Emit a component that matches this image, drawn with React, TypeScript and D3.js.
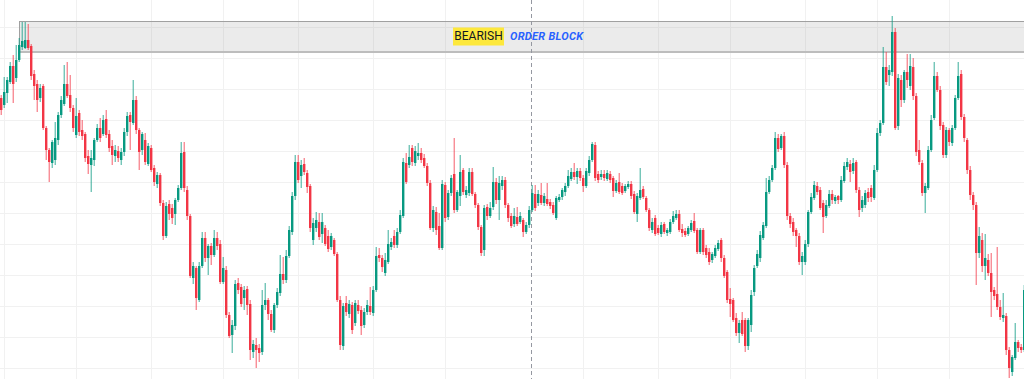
import React from 'react';
import * as d3 from 'd3';

// OHLC per bar (price units), left to right
const opens = [302,295,307,318,334,322,340,353,352,360,354,326,316,302,314,272,250,237,240,260,285,296,316,305,292,265,287,270,266,244,235,240,260,272,266,281,266,254,244,249,240,248,268,285,277,300,270,250,260,236,252,232,216,225,197,164,196,192,186,200,212,248,210,184,122,132,100,134,162,142,154,145,162,156,118,130,85,65,74,117,113,102,111,96,48,55,52,48,95,100,86,70,95,107,126,120,144,168,204,238,224,236,227,214,160,172,178,166,172,164,153,160,146,100,54,97,86,95,77,95,90,75,88,94,87,110,145,142,127,138,153,164,155,168,184,237,235,252,237,244,247,242,234,217,172,188,174,152,215,183,207,226,190,204,230,205,207,228,206,195,173,150,193,184,193,218,200,214,220,195,184,176,183,178,180,168,175,190,206,197,205,197,201,198,195,182,200,203,208,214,221,228,223,229,222,214,227,240,255,226,223,226,221,226,222,209,218,214,209,213,216,206,186,202,211,202,190,170,182,172,166,176,167,168,178,182,186,171,169,166,170,179,170,148,170,152,148,140,144,151,160,142,128,101,100,82,67,80,80,54,75,108,134,142,162,174,208,220,232,262,252,264,235,184,178,170,164,138,138,156,188,202,214,210,197,184,194,206,199,204,200,219,233,236,229,238,210,192,195,208,212,202,230,267,277,333,325,328,368,274,320,300,328,314,333,304,250,237,207,212,250,282,324,310,275,245,270,257,272,302,326,283,260,230,205,195,147,160,134,140,127,110,106,93,82,84,50,28,42,58,53,50];
const highs = [305,323,323,338,345,355,362,378,378,376,356,330,320,316,316,274,252,260,278,288,304,335,338,325,295,302,290,280,268,250,250,262,276,282,285,290,270,260,255,254,252,272,288,288,320,304,272,268,267,257,255,235,228,227,200,198,200,196,202,215,258,258,214,186,138,134,138,168,168,156,157,170,168,160,143,134,88,80,120,122,116,114,114,100,60,62,56,110,117,102,90,97,112,145,143,150,174,208,245,245,240,242,230,216,182,188,187,187,175,170,167,162,148,104,97,104,100,98,100,100,94,92,100,113,114,153,152,145,147,170,162,170,172,190,242,247,255,255,254,257,252,246,237,220,194,193,187,220,218,210,225,262,210,245,232,214,232,232,208,197,175,195,196,198,233,222,224,224,223,197,187,192,193,188,182,178,194,215,215,210,217,207,217,201,198,204,206,212,217,230,232,237,232,232,225,232,244,258,258,229,230,230,230,229,224,220,227,217,216,219,219,209,207,232,214,204,192,182,185,175,178,178,172,181,189,190,190,176,172,174,180,187,172,172,172,155,152,148,155,160,162,145,130,112,102,87,80,88,82,82,110,135,150,169,178,222,224,235,268,266,266,268,238,187,182,172,167,148,160,190,207,219,218,213,200,200,210,210,205,205,224,238,242,240,242,240,213,204,210,212,215,235,272,280,353,348,335,384,372,326,325,330,346,346,342,307,260,240,217,254,285,338,328,314,278,273,272,275,305,338,330,286,262,234,208,198,173,167,166,146,147,113,153,100,107,87,53,45,77,60,56,115];
const lows = [285,292,297,316,297,318,338,350,351,350,320,300,288,298,270,240,218,232,235,255,282,294,302,288,268,262,264,260,238,226,208,234,258,258,264,262,248,235,238,238,235,244,264,250,275,266,230,245,235,234,228,214,212,194,160,162,180,176,175,198,210,208,180,122,116,90,98,132,138,125,135,143,150,116,116,82,62,47,70,106,93,90,85,40,42,32,38,45,90,80,68,67,92,104,116,117,142,165,200,217,212,225,207,168,155,168,160,157,154,148,150,144,98,50,50,84,82,66,74,86,65,72,85,85,84,108,138,128,124,136,150,152,152,166,182,216,232,234,234,240,237,232,214,170,168,165,150,150,178,180,204,187,188,194,205,202,204,204,192,170,144,144,180,182,190,196,180,210,192,178,172,173,174,176,163,166,172,188,189,194,195,194,194,191,185,180,198,200,204,212,219,220,216,219,208,212,224,238,219,217,220,219,219,217,203,207,206,205,207,211,201,186,178,200,201,188,169,167,164,165,163,166,164,166,176,180,168,163,163,164,168,167,146,146,145,142,135,137,142,149,138,122,97,83,78,64,57,64,48,50,68,104,132,138,160,172,206,218,230,248,250,232,180,172,164,153,135,125,135,153,186,200,205,190,167,182,192,196,196,196,198,217,230,218,226,207,183,188,192,198,198,200,228,264,275,315,314,324,270,270,293,297,312,310,300,244,235,204,187,210,248,280,308,270,242,242,254,254,270,300,280,258,226,200,190,115,142,128,120,124,83,100,90,80,78,45,22,24,40,48,47,48];
const closes = [290,308,320,334,316,340,355,359,360,352,324,314,300,312,272,250,238,258,262,285,300,316,304,292,272,284,268,264,242,236,242,260,272,262,280,265,252,245,250,242,248,268,284,278,300,270,248,266,238,254,230,218,225,197,164,194,186,182,200,212,247,212,184,124,134,102,134,162,142,154,145,162,154,118,132,85,64,75,116,110,96,110,95,50,56,50,47,95,100,86,70,95,108,126,120,144,170,204,238,220,235,228,213,172,177,180,163,178,156,151,164,146,100,55,94,88,96,70,97,89,74,88,95,88,110,144,142,133,140,156,158,155,168,185,238,218,243,238,249,247,240,234,217,172,190,170,152,216,182,207,222,190,208,228,208,210,228,206,195,173,147,192,184,192,218,200,217,220,195,182,174,184,176,184,168,175,190,207,192,206,197,204,196,194,187,202,203,210,214,224,228,223,229,222,214,229,240,256,222,220,226,222,227,220,209,217,208,207,214,216,204,188,204,210,203,190,172,178,166,167,175,168,170,178,184,186,170,167,165,172,177,169,148,170,148,145,138,146,152,157,142,124,100,96,80,67,77,66,54,80,105,132,146,165,175,208,220,232,262,251,264,235,184,176,168,164,138,144,156,188,203,215,208,192,183,195,206,200,203,200,220,234,238,228,237,210,190,200,207,202,203,230,267,277,333,318,330,368,272,322,300,328,320,334,304,248,238,207,214,250,280,324,310,274,245,270,258,272,302,324,283,262,230,205,195,147,164,134,142,127,108,104,93,83,85,50,32,43,58,52,50,110];

// Horizontal grid (price levels) and vertical grid (bar positions)
const gridPrices = [373, 342, 311, 280, 249, 218, 187, 156, 125, 94, 63, 32];
const gridBars = [1, 25, 50, 74, 99, 124, 148, 194, 219, 243, 268, 292, 316];

// Order block zone
const obTop = 379;
const obBottom = 348;
const obStartBar = 6;
const cursorBar = 177;
const labelMain = 'BEARISH';
const labelSub = 'ORDER BLOCK';

const UP = '#089981';
const DOWN = '#f23645';

export default function App() {
  const W = 1024;
  const H = 379;
  const N = opens.length;
  const x = d3.scaleBand<number>().domain(d3.range(N)).range([0, N * 3]);
  const y = d3.scaleLinear().domain([0, 400]).range([400, 0]);
  const step = x.step();
  const bodyW = step * 0.8;

  const boxX0 = (x(obStartBar) as number) + 1;
  const boxX1 = W;
  const boxY0 = y(obTop);
  const boxY1 = y(obBottom);
  const boxMid = (boxY0 + boxY1) / 2;
  const cx = (boxX0 + boxX1) / 2;
  const cursorX = (x(cursorBar) as number) + 0.5;

  return (
    <svg
      width={W}
      height={H}
      style={{ position: 'absolute', left: 0, top: 0, display: 'block', background: '#ffffff' }}
    >
      <rect x={0} y={0} width={W} height={H} fill="#ffffff" />
      {gridPrices.map((p) => (
        <line key={'h' + p} x1={0} x2={W} y1={Math.round(y(p)) + 0.5} y2={Math.round(y(p)) + 0.5} stroke="#f1f1f1" strokeWidth={1} />
      ))}
      {gridBars.map((b) => (
        <line key={'v' + b} x1={(x(b) as number) + 1.5} x2={(x(b) as number) + 1.5} y1={0} y2={H} stroke="#f1f1f1" strokeWidth={1} />
      ))}
      <rect x={boxX0} y={boxY0} width={boxX1 - boxX0 + 2} height={boxY1 - boxY0} fill="rgba(128,128,128,0.16)" />
      <line x1={boxX0} x2={W} y1={boxY0 + 0.5} y2={boxY0 + 0.5} stroke="#a0a0a0" strokeWidth={1} />
      <line x1={boxX0} x2={W} y1={boxY1} y2={boxY1} stroke="#bdbdbd" strokeWidth={2} />
      <line x1={boxX0 + 0.5} x2={boxX0 + 0.5} y1={boxY0} y2={boxY1} stroke="#a0a0a0" strokeWidth={1} />
      <line x1={cursorX} x2={cursorX} y1={0} y2={H} stroke="#9598a1" strokeWidth={1} strokeDasharray="4 3" />
      {opens.map((o, i) => {
        const c = closes[i];
        const up = c >= o;
        const col = up ? UP : DOWN;
        const x0 = x(i) as number;
        const top = y(Math.max(o, c));
        const bot = y(Math.min(o, c));
        return (
          <g key={i}>
            <line x1={x0 + bodyW / 2} x2={x0 + bodyW / 2} y1={y(highs[i])} y2={y(lows[i])} stroke={col} strokeWidth={1} strokeOpacity={0.8} />
            <rect x={x0} y={top} width={bodyW} height={Math.max(1, bot - top)} fill={col} />
          </g>
        );
      })}
      <rect x={cx - 68.5} y={boxMid - 9} width={51} height={18} fill="#fde83c" />
      <text
        x={cx - 43}
        y={boxMid + 0.5}
        textAnchor="middle"
        dominantBaseline="middle"
        fontFamily="Roboto, 'DejaVu Sans', sans-serif"
        fontSize={12}
        fill="#131722"
      >
        {labelMain}
      </text>
      <text
        x={cx - 11.5}
        y={boxMid + 0.5}
        dominantBaseline="middle"
        fontFamily="Roboto, 'DejaVu Sans', sans-serif"
        fontSize={11}
        fontWeight="bold"
        fontStyle="italic"
        fill="#2962ff"
        letterSpacing={0.3}
      >
        {labelSub}
      </text>
    </svg>
  );
}
